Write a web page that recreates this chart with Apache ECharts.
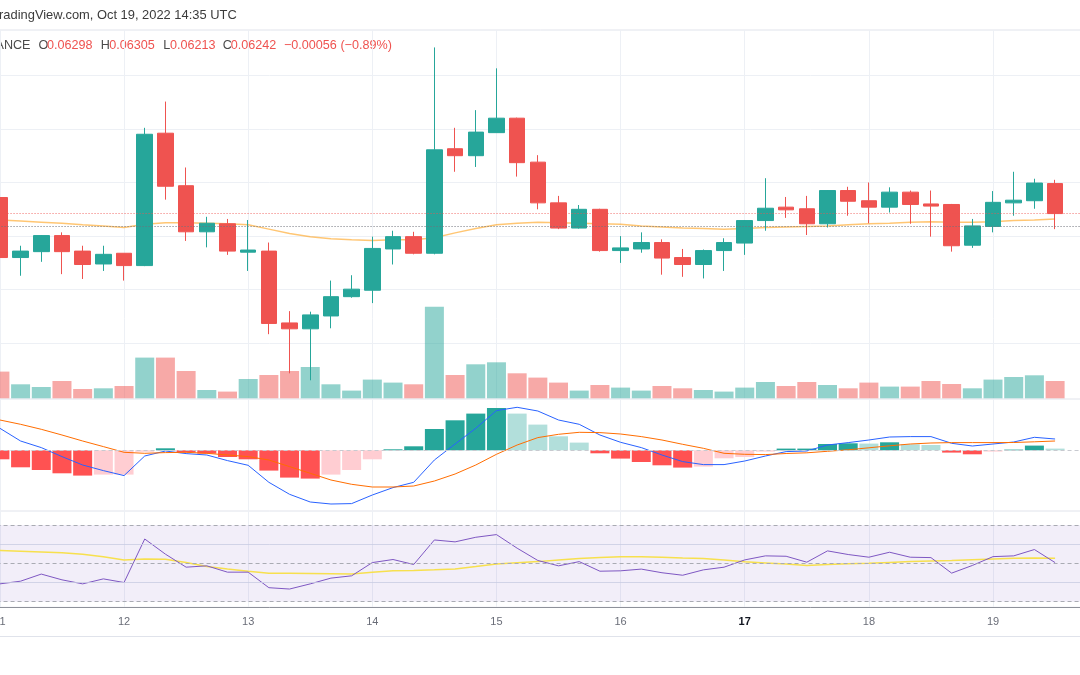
<!DOCTYPE html>
<html>
<head>
<meta charset="utf-8">
<script src="https://cdn.jsdelivr.net/npm/echarts@6/dist/echarts.min.js"></script>
<style>
html,body{margin:0;padding:0;background:#fff;overflow:hidden}
#c{width:1080px;height:675px}
</style>
</head>
<body>
<div id="c"></div>
<script>
// ---------------- DATA (4h candles, Oct 11 00:00 -> Oct 19 12:00 UTC) ----------------
const days  = ['2022-10-11','2022-10-12','2022-10-13','2022-10-14','2022-10-15','2022-10-16','2022-10-17','2022-10-18','2022-10-19'];
const hours = ['00:00','04:00','08:00','12:00','16:00','20:00'];

const opens  = [0.06272,0.06160,0.06171,0.06201,0.06172,0.06148,0.06168,0.06145,0.06392,0.06294,0.06208,0.06223,0.06170,0.06172,0.06038,0.06027,0.06051,0.06087,0.06099,0.06176,0.06199,0.06168,0.06363,0.06350,0.06393,0.06420,0.06338,0.06262,0.06215,0.06250,0.06173,0.06176,0.06188,0.06160,0.06147,0.06173,0.06187,0.06229,0.06254,0.06251,0.06223,0.06285,0.06266,0.06254,0.06282,0.06260,0.06259,0.06183,0.06218,0.06262,0.06266,0.06298];
const closes = [0.06160,0.06172,0.06201,0.06171,0.06147,0.06166,0.06145,0.06390,0.06293,0.06208,0.06224,0.06172,0.06174,0.06037,0.06027,0.06053,0.06087,0.06101,0.06177,0.06199,0.06168,0.06361,0.06350,0.06394,0.06420,0.06337,0.06262,0.06215,0.06250,0.06173,0.06178,0.06188,0.06159,0.06147,0.06173,0.06188,0.06229,0.06252,0.06249,0.06223,0.06285,0.06265,0.06254,0.06282,0.06259,0.06256,0.06182,0.06219,0.06263,0.06267,0.06299,0.06242];
const lows   = [0.06134,0.06126,0.06152,0.06129,0.06120,0.06135,0.06117,0.06144,0.06268,0.06191,0.06179,0.06165,0.06135,0.06017,0.05944,0.05931,0.06028,0.06085,0.06075,0.06147,0.06166,0.06166,0.06320,0.06329,0.06393,0.06311,0.06250,0.06213,0.06214,0.06171,0.06150,0.06169,0.06128,0.06124,0.06121,0.06135,0.06165,0.06210,0.06234,0.06202,0.06216,0.06238,0.06224,0.06244,0.06223,0.06199,0.06171,0.06178,0.06207,0.06238,0.06251,0.06213];
const highs  = [0.06275,0.06182,0.06202,0.06207,0.06182,0.06182,0.06168,0.06402,0.06451,0.06328,0.06236,0.06232,0.06230,0.06188,0.06060,0.06059,0.06117,0.06127,0.06199,0.06210,0.06208,0.06552,0.06402,0.06435,0.06513,0.06421,0.06351,0.06275,0.06258,0.06251,0.06200,0.06207,0.06194,0.06176,0.06175,0.06196,0.06230,0.06308,0.06273,0.06275,0.06286,0.06292,0.06300,0.06291,0.06285,0.06285,0.06260,0.06232,0.06284,0.06320,0.06307,0.06305];
const maLine = [0.06230,0.06228,0.06226,0.06224,0.06221,0.06219,0.06216,0.06222,0.06225,0.06225,0.06224,0.06223,0.06221,0.06213,0.06205,0.06199,0.06195,0.06193,0.06192,0.06193,0.06193,0.06197,0.06206,0.06214,0.06221,0.06224,0.06226,0.06225,0.06224,0.06223,0.06222,0.06219,0.06217,0.06215,0.06214,0.06213,0.06214,0.06216,0.06217,0.06218,0.06219,0.06221,0.06223,0.06224,0.06226,0.06227,0.06226,0.06226,0.06227,0.06229,0.06230,0.06232];
const volumes = [2670,1400,1130,1730,930,1000,1230,4070,4070,2730,830,670,1930,2330,2730,3130,1400,770,1870,1570,1400,9160,2330,3400,3600,2500,2070,1570,770,1330,1070,770,1230,1000,830,670,1070,1630,1230,1630,1330,1000,1570,1170,1170,1730,1430,1000,1870,2130,2300,1730];
// MACD (x1e-6)
const macdLine = [22,9.3,2.7,-6.3,-14.7,-20.3,-25.3,-5.7,-0.7,-3.3,-4.7,-10.3,-15,-32,-44,-51.7,-53.7,-53.3,-44.7,-37.3,-32,-9.7,6.3,22,39.7,43,39.3,30.3,26,15.3,8,2.7,-4.7,-11.3,-14.3,-14.3,-10.7,-5.7,-1.3,-0.7,5.3,7.7,10.3,13.3,13.7,13.7,7,4.3,6.3,8.3,13,11.3];
const signalLine = [30.3,26,21,15.3,9.3,3.7,-2,-3,-2.3,-2,-3,-4.7,-6.3,-9.7,-16.3,-23,-29.7,-34,-36.7,-36.7,-35.7,-30.7,-23.7,-14.7,-4,5.3,12.7,16,18,17.7,16.3,13.7,10.3,6,2,-3,-4,-4.3,-3.2,-2.5,-1,0.5,2.5,4.5,6.3,7.3,7.7,7.7,7.7,7.8,8.5,9.3];
const histogram = [-9,-17,-19.7,-23,-25.3,-24.3,-24.3,-1.5,2,-2,-3.3,-6.7,-9,-20.3,-27.3,-28.3,-24.3,-19.7,-9,1,4,21.3,30,36.7,42.3,36.7,25.7,14,7.7,-3,-8.3,-11.7,-15,-17.3,-16.3,-8,-6.7,-1.3,1.7,1.7,6.3,7,6.7,8,6,5.3,-2.3,-4,-1.3,0.7,4.7,1.7];
// RSI
const rsi   = [39.3,40.7,44.4,41.4,39.3,41.9,40.0,62.7,54.8,48.0,48.7,45.4,45.4,37.3,36.6,39.3,42.3,43.5,50.4,52.0,49.4,62.2,61.2,63.6,65.0,57.9,51.5,48.7,50.9,45.9,46.1,47.0,45.1,43.8,46.6,48.0,51.8,53.9,53.7,50.6,56.5,54.6,53.2,55.8,53.2,53.0,44.9,48.9,53.5,53.9,57.2,50.4];
const rsiMa = [56.7,56.3,55.9,55.5,54.7,53.4,51.7,52.3,52.1,50.4,48.3,47.0,45.9,44.9,44.8,44.7,44.6,44.5,45.4,46.1,46.3,46.6,47.1,48.3,49.6,50.3,50.9,51.8,52.5,53.0,53.4,53.5,53.2,52.8,52.5,51.8,50.8,50.2,49.6,48.9,49.4,49.8,50.1,50.5,50.9,51.2,51.5,51.9,52.3,52.6,52.8,52.7];
const rsiBands = [70, 50, 30];
const rsiGrid  = [60, 40];
const priceTicks = [0.059, 0.066, 0.001]; // min, max, step
const refLevel = 0.06219;                 // grey dotted reference line
const headerText = 'TradingView.com, Oct 19, 2022 14:35 UTC';
const exchangeText = 'BINANCE';

// ---------------- helpers / layout ----------------
const categories = [];
days.forEach(d => hours.forEach(h => { if (categories.length < opens.length) categories.push(d + ' ' + h); }));
const axisCats = categories.concat(['']); // right margin slot

const FONT = '"Liberation Sans", Arial, sans-serif';
const UP = '#26a69a', DOWN = '#ef5350';
const GRIDC = '#edf0f5', SEP = '#e0e3eb';
const BAND = 20.69, X0 = -0.1;
const gLeft = X0 - BAND / 2;
const gRight = 1080 - (gLeft + axisCats.length * BAND);

const last = opens.length - 1;
const f5 = v => v.toFixed(5);
const minus = s => s.replace('-', '\u2212');
const chg = closes[last] - opens[last];
const chgTxt = minus(chg.toFixed(5)) + ' (' + minus((chg / opens[last] * 100).toFixed(2)) + '%)';

const candleData = opens.map((o, i) => [o, closes[i], lows[i], highs[i]]);
const volData = volumes.map((v, i) => ({ value: v, itemStyle: { color: closes[i] >= opens[i] ? 'rgba(38,166,154,0.5)' : 'rgba(239,83,80,0.5)' } }));
const histData = histogram.map((v, i) => {
  const p = i > 0 ? histogram[i - 1] : null;
  let c;
  if (v >= 0) c = (p === null || v >= p) ? '#26a69a' : '#b2dfdb';
  else c = (p === null || v < p) ? '#ff5252' : '#ffcdd2';
  return { value: v, itemStyle: { color: c } };
});

function catAxis(gi, extra) {
  return Object.assign({
    type: 'category', gridIndex: gi, data: axisCats, boundaryGap: true,
    axisLine: { show: false }, axisTick: { show: false }, axisLabel: { show: false }, splitLine: { show: false }
  }, extra || {});
}
const gridBase = { left: gLeft, right: gRight, outerBoundsMode: 'none', containLabel: false };
const mlBase = { silent: true, symbol: ['none', 'none'], label: { show: false }, animation: false, precision: 8 };

const chart = echarts.init(document.getElementById('c'), null, { renderer: 'canvas', width: 1080, height: 675 });

const txt = (x, y, text, fill, align, size) => ({
  type: 'text', x: x, y: y, silent: true,
  style: { text: text, fill: fill, align: align || 'left', verticalAlign: 'middle', fontSize: size || 12.6, fontFamily: FONT }
});

chart.setOption({
  animation: false,
  backgroundColor: '#ffffff',
  grid: [
    Object.assign({ top: 21.7, height: 375.2 }, gridBase),                      // 0 price
    Object.assign({ top: 298.3, height: 100 }, gridBase),                       // 1 volume
    Object.assign({ top: 399, height: 112, show: true, borderColor: SEP, borderWidth: 1 }, gridBase), // 2 MACD
    Object.assign({ top: 511, height: 96.3 }, gridBase),                        // 3 RSI
    { left: X0, width: 54 * BAND, top: 30, height: 577.3, show: true, borderColor: SEP, borderWidth: 1, outerBoundsMode: 'none' } // 4 day grid
  ],
  xAxis: [
    catAxis(0), catAxis(1), catAxis(2),
    catAxis(3, {
      axisLine: { show: true, lineStyle: { color: '#8e919a', width: 1 } },
      axisLabel: {
        show: true, margin: 9, fontSize: 11, fontFamily: FONT, color: '#6a6d78',
        hideOverlap: false,
        interval: (i, v) => typeof v === 'string' && v.endsWith('00:00'),
        formatter: v => {
          const d = new Date(v.slice(0, 10) + 'T00:00:00Z');
          const s = String(d.getUTCDate());
          return d.getUTCDay() === 1 ? '{w|' + s + '}' : s;
        },
        rich: { w: { fontSize: 11, fontFamily: FONT, color: '#131722', fontWeight: 'bold' } }
      }
    }),
    { type: 'value', gridIndex: 4, min: 0, max: 54, interval: 6,
      axisLine: { show: false }, axisTick: { show: false }, axisLabel: { show: false },
      splitLine: { show: true, lineStyle: { color: GRIDC, width: 1 } } }
  ],
  yAxis: [
    { type: 'value', gridIndex: 0, min: priceTicks[0], max: priceTicks[1], interval: priceTicks[2],
      axisLine: { show: false }, axisTick: { show: false }, axisLabel: { show: false },
      splitLine: { show: true, showMinLine: false, showMaxLine: false, lineStyle: { color: GRIDC, width: 1 } } },
    { type: 'value', gridIndex: 1, min: 0, max: 10000, show: false, splitLine: { show: false } },
    { type: 'value', gridIndex: 2, min: -60.7, max: 51.3, show: false, splitLine: { show: false } },
    { type: 'value', gridIndex: 3, min: 27.08, max: 77.3, show: false, splitLine: { show: false } },
    { type: 'value', gridIndex: 4, min: 0, max: 1, show: false, splitLine: { show: false } }
  ],
  series: [
    { type: 'bar', name: 'Volume', xAxisIndex: 1, yAxisIndex: 1, data: volData, barWidth: 19, z: 1, silent: true },
    { type: 'line', name: 'MA', xAxisIndex: 0, yAxisIndex: 0, data: maLine, symbol: 'none', z: 2, silent: true,
      lineStyle: { color: 'rgba(255,152,0,0.55)', width: 1.5 },
      markLine: Object.assign({}, mlBase, {
        data: [
          { yAxis: closes[last], lineStyle: { color: 'rgba(239,83,80,0.85)', type: [1, 2], width: 1 } },
          { yAxis: refLevel, lineStyle: { color: '#6f727b', type: [1, 2], width: 1 } }
        ] }) },
    { type: 'candlestick', name: 'Price', xAxisIndex: 0, yAxisIndex: 0, data: candleData, barWidth: 16, z: 3,
      itemStyle: { color: UP, color0: DOWN, borderColor: UP, borderColor0: DOWN, borderWidth: 1 } },
    { type: 'bar', name: 'Histogram', xAxisIndex: 2, yAxisIndex: 2, data: histData, barWidth: 19, z: 2, silent: true,
      markLine: Object.assign({}, mlBase, {
        data: [{ yAxis: 0, lineStyle: { color: '#c8cad0', type: [4, 3], width: 1 } }] }) },
    { type: 'line', name: 'MACD', xAxisIndex: 2, yAxisIndex: 2, data: macdLine, symbol: 'none', z: 3, silent: true,
      lineStyle: { color: '#2962ff', width: 1 } },
    { type: 'line', name: 'Signal', xAxisIndex: 2, yAxisIndex: 2, data: signalLine, symbol: 'none', z: 3, silent: true,
      lineStyle: { color: '#ff6d00', width: 1 } },
    { type: 'line', name: 'RSI-based MA', xAxisIndex: 3, yAxisIndex: 3, data: rsiMa, symbol: 'none', z: 3, silent: true,
      lineStyle: { color: '#f7e04e', width: 1.5 },
      markArea: { silent: true, itemStyle: { color: 'rgba(126,87,194,0.1)' },
        data: [[{ yAxis: rsiBands[2] }, { yAxis: rsiBands[0] }]] },
      markLine: Object.assign({}, mlBase, {
        data: rsiBands.map(v => ({ yAxis: v, lineStyle: { color: '#a9abb3', type: [4, 3], width: 1 } }))
          .concat(rsiGrid.map(v => ({ yAxis: v, lineStyle: { color: 'rgba(200,204,226,0.8)', type: 'solid', width: 1 } }))) }) },
    { type: 'line', name: 'RSI', xAxisIndex: 3, yAxisIndex: 3, data: rsi, symbol: 'none', z: 4, silent: true,
      lineStyle: { color: '#7e57c2', width: 1 } }
  ],
  graphic: [
    txt(236.7, 15.5, headerText, '#3b3b3b', 'right', 12.9),
    txt(30.5, 46, exchangeText, '#4a4a4a', 'right'),
    txt(38.5, 46, 'O', '#4a4a4a'), txt(47, 46, f5(opens[last]), '#ef5350'),
    txt(100.7, 46, 'H', '#4a4a4a'), txt(109.3, 46, f5(highs[last]), '#ef5350'),
    txt(163.3, 46, 'L', '#4a4a4a'), txt(170, 46, f5(lows[last]), '#ef5350'),
    txt(222.7, 46, 'C', '#4a4a4a'), txt(230.7, 46, f5(closes[last]), '#ef5350'),
    txt(284, 46, chgTxt, '#ef5350'),
    { type: 'line', silent: true, shape: { x1: 0, y1: 636.5, x2: 1080, y2: 636.5 }, style: { stroke: SEP, lineWidth: 1 } }
  ]
});
</script>
</body>
</html>
